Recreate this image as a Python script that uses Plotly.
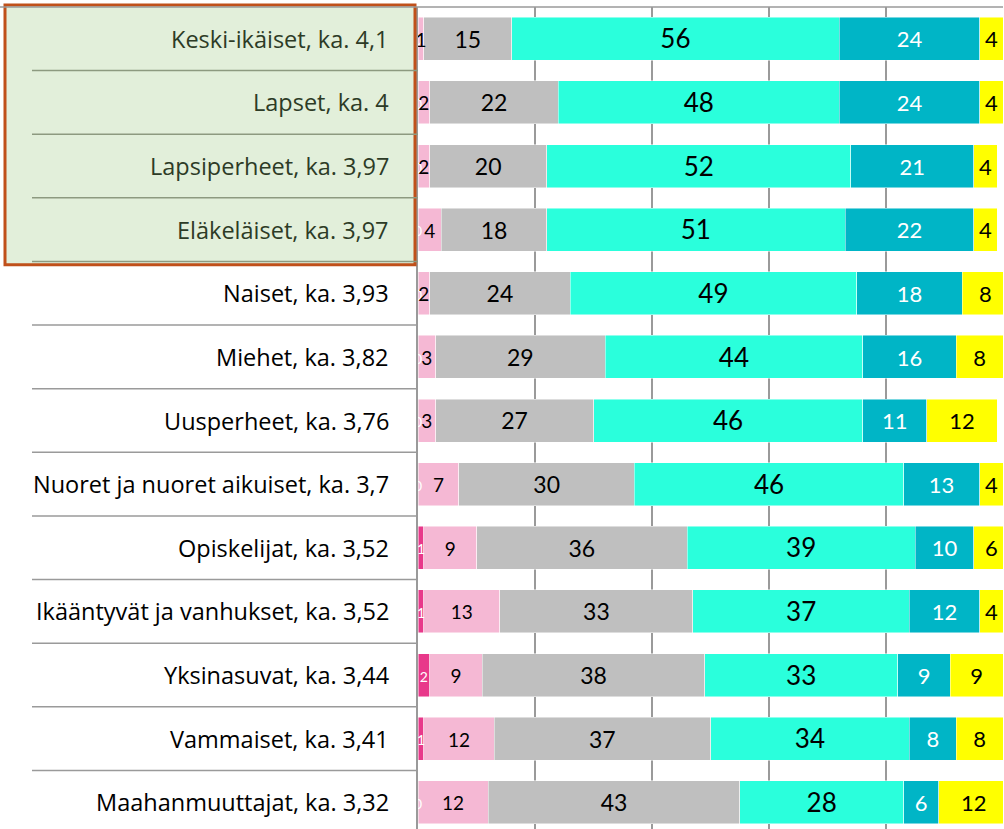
import plotly.graph_objects as go

# Groups, top to bottom
groups = [
    "Keski-ikäiset, ka. 4,1",
    "Lapset, ka. 4",
    "Lapsiperheet, ka. 3,97",
    "Eläkeläiset, ka. 3,97",
    "Naiset, ka. 3,93",
    "Miehet, ka. 3,82",
    "Uusperheet, ka. 3,76",
    "Nuoret ja nuoret aikuiset, ka. 3,7",
    "Opiskelijat, ka. 3,52",
    "Ikääntyvät ja vanhukset, ka. 3,52",
    "Yksinasuvat, ka. 3,44",
    "Vammaiset, ka. 3,41",
    "Maahanmuuttajat, ka. 3,32",
]

# Shares (%) per answer class, from left to right
s1 = [0, 0, 0, 0, 0, 0, 0, 0, 1, 1, 2, 1, 0]
s2 = [1, 2, 2, 4, 2, 3, 3, 7, 9, 13, 9, 12, 12]
s3 = [15, 22, 20, 18, 24, 29, 27, 30, 36, 33, 38, 37, 43]
s4 = [56, 48, 52, 51, 49, 44, 46, 46, 39, 37, 33, 34, 28]
s5 = [24, 24, 21, 22, 18, 16, 11, 13, 10, 12, 9, 8, 6]
s6 = [4, 4, 4, 4, 8, 8, 12, 4, 6, 4, 9, 8, 12]

highlighted = 4  # first rows inside the green box

series = [s1, s2, s3, s4, s5, s6]
colors = ["#e8388a", "#f5b8d4", "#bfbfbf", "#2affdc", "#00b5c6", "#ffff00"]
label_colors = ["white", "black", "black", "black", "white", "black"]
label_sizes = [14, 19, 23, 26, 22, 22]

pos = list(range(len(groups)))
y_top, y_bot = -0.5, 12.42


def to_paper(v):
    return (y_bot - v) / (y_bot - y_top)


fig = go.Figure()

for vals, col in zip(series, colors):
    fig.add_trace(go.Bar(
        x=vals, y=pos, orientation="h", width=0.676,
        marker=dict(color=col, line=dict(color="rgba(255,255,255,0.6)", width=0.8)),
        hoverinfo="skip", showlegend=False,
    ))

# value labels at segment centres (nudged down a little to sit mid-bar)
base = [0] * len(groups)
for vals, lc, ls in zip(series, label_colors, label_sizes):
    mids = [b + v / 2 for b, v in zip(base, vals)]
    fig.add_trace(go.Scatter(
        x=mids, y=[p + 0.05 for p in pos], mode="text", text=[str(v) for v in vals],
        textfont=dict(family="Lato", size=ls, color=lc),
        hoverinfo="skip", showlegend=False,
    ))
    base = [b + v for b, v in zip(base, vals)]

L = 418
W = 1004 - L - 1
xl = lambda px: (px - L) / W

shapes = [
    # highlight box
    dict(type="rect", xref="paper", yref="paper",
         x0=xl(5), x1=xl(415), y0=to_paper(3.55), y1=to_paper(-0.53),
         fillcolor="#e2efda", line=dict(color="#c0501a", width=3), layer="above"),
    # top line
    dict(type="line", xref="paper", yref="paper", x0=xl(0), x1=1, y0=1, y1=1,
         line=dict(color="#9a9a9a", width=1.5)),
]
for k in range(len(groups) - 1):
    c = "#8d9a80" if k < highlighted else "#9a9a9a"
    shapes.append(dict(type="line", xref="paper", yref="y",
                       x0=xl(32), x1=0, y0=k + 0.5, y1=k + 0.5,
                       line=dict(color=c, width=1.5)))

annotations = []
for i, g in enumerate(groups):
    annotations.append(dict(
        xref="paper", yref="y", x=0, y=i, xshift=-27, xanchor="right",
        text=g, showarrow=False,
        font=dict(family="Open Sans", size=23.5,
                  color="#2d3b26" if i < highlighted else "#000000"),
    ))

fig.update_layout(
    width=1004, height=829,
    margin=dict(l=L, r=1, t=7, b=0),
    barmode="stack", bargap=0.324,
    plot_bgcolor="white", paper_bgcolor="white",
    xaxis=dict(range=[0, 100], dtick=20, showgrid=True, gridcolor="#9a9a9a",
               gridwidth=1.5, zeroline=False, showticklabels=False, fixedrange=True),
    yaxis=dict(range=[y_bot, y_top], showgrid=False, zeroline=False,
               showticklabels=False, showline=True, linecolor="#9a9a9a",
               linewidth=1.5, fixedrange=True),
    shapes=shapes,
    annotations=annotations,
)

fig.write_html("out.html", config={"displayModeBar": False},
               post_script="document.body.style.margin='0';document.body.style.overflow='hidden';")
